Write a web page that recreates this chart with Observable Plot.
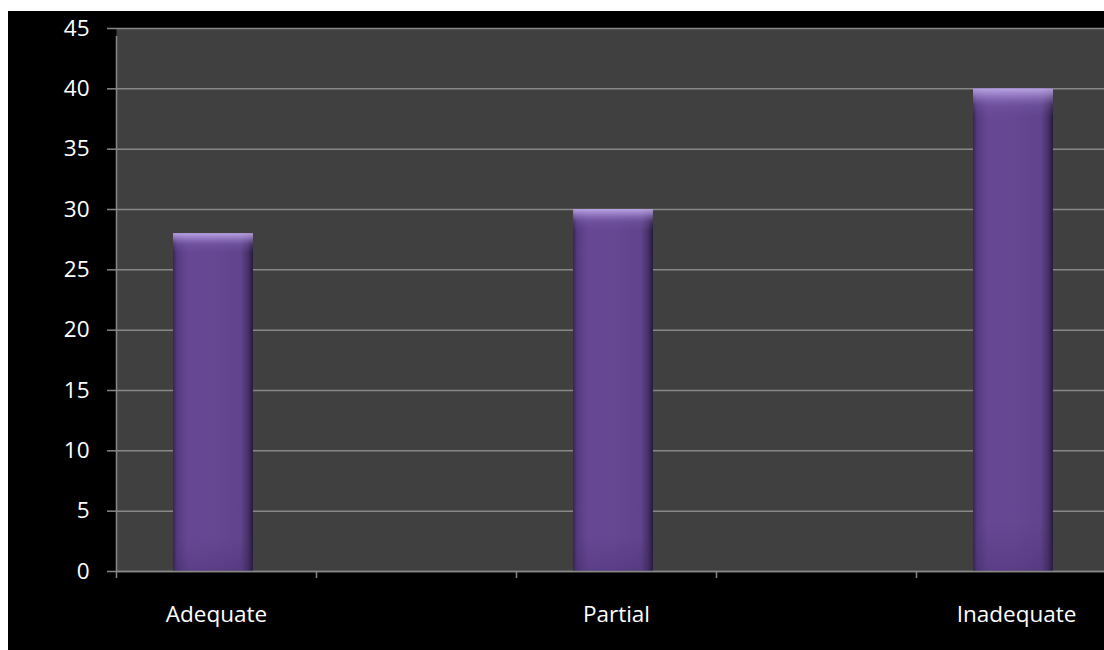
<!DOCTYPE html>
<html>
<head>
<meta charset="utf-8">
<script src="https://cdn.jsdelivr.net/npm/d3@7"></script>
<script src="https://cdn.jsdelivr.net/npm/@observablehq/plot@0.6"></script>
<style>
  html, body { margin: 0; padding: 0; background: #ffffff; overflow: hidden; }
  #chart { position: absolute; left: 8px; top: 11px; width: 1096px; height: 639px; background: #000; overflow: hidden; }
  #chart svg { display: block; max-width: none !important; }
</style>
</head>
<body>
<div id="chart"></div>
<script>
// Data
const categories = ["Adequate", "Partial", "Inadequate"];
const values = [28, 30, 40];
const yTicks = [0, 5, 10, 15, 20, 25, 30, 35, 40, 45];
// category slots: each category takes two slot units, the label sits in the first
const slotCount = 5;

const data = categories.map((c, i) => ({category: c, value: values[i], pos: i * 2 + 0.5}));
const slotEdges = d3.range(0, slotCount + 1);

const gridColor = "#878787";
const font = "'Open Sans', sans-serif";
const fs = 22.5;

const defs = () => {
  const d = d3.create("svg:defs");
  const h = d.append("linearGradient").attr("id", "barH").attr("x1", 0).attr("x2", 1).attr("y1", 0).attr("y2", 0);
  [[0, "#35264f"], [0.05, "#553b80"], [0.18, "#664794"], [0.5, "#654793"], [0.85, "#60438c"], [0.94, "#463166"], [1, "#261a3b"]]
    .forEach(([o, c]) => h.append("stop").attr("offset", o).attr("stop-color", c));
  const v = d.append("linearGradient").attr("id", "barV").attr("x1", 0).attr("x2", 0).attr("y1", 0).attr("y2", 1);
  [[0, "#c8b4f0", 0.85], [0.012, "#b39be0", 0.7], [0.035, "#8c70c0", 0.25], [0.06, "#7a5cb0", 0], [0.9, "#3a2060", 0], [1, "#3a2060", 0.25]]
    .forEach(([o, c, a]) => v.append("stop").attr("offset", o).attr("stop-color", c).attr("stop-opacity", a));
  return d.node();
};

const chart = Plot.plot({
  width: 1108,
  height: 639,
  marginLeft: 108,
  marginRight: 0,
  marginTop: 17,
  marginBottom: 79,
  style: {background: "#000", fontFamily: font, maxWidth: "none"},
  x: {type: "linear", domain: [0, slotCount], axis: null},
  y: {domain: [0, 45], axis: null},
  marks: [
    defs,
    Plot.frame({fill: "#404040", stroke: null}),
    Plot.gridY(yTicks, {stroke: gridColor, strokeOpacity: 1, strokeWidth: 1.5}),
    Plot.axisY(yTicks, {anchor: "left", label: null, tickSize: 9, tickPadding: 18, stroke: gridColor, strokeWidth: 1.5, fill: "#fff", fontSize: fs, fontFamily: font}),
    Plot.rectY(data, {x1: d => d.pos - 0.2, x2: d => d.pos + 0.2, y: "value", fill: "url(#barH)", dx: -3}),
    Plot.rectY(data, {x1: d => d.pos - 0.2, x2: d => d.pos + 0.2, y: "value", fill: "url(#barV)", dx: -3}),
    Plot.ruleY([0], {stroke: gridColor, strokeWidth: 1.5}),
    Plot.ruleX([0], {stroke: gridColor, strokeWidth: 1.5, y1: 0, y2: 45, insetBottom: -8}),
    Plot.axisX(slotEdges, {anchor: "bottom", label: null, tickSize: 7, tickFormat: () => "", stroke: gridColor, strokeWidth: 1.5}),
    Plot.axisX(data.map(d => d.pos), {anchor: "bottom", label: null, tickSize: 0, tickPadding: 35, tickFormat: (p) => data.find(d => d.pos === p).category, fill: "#fff", fontSize: fs, fontFamily: font})
  ]
});
document.getElementById("chart").append(chart);
</script>
</body>
</html>
